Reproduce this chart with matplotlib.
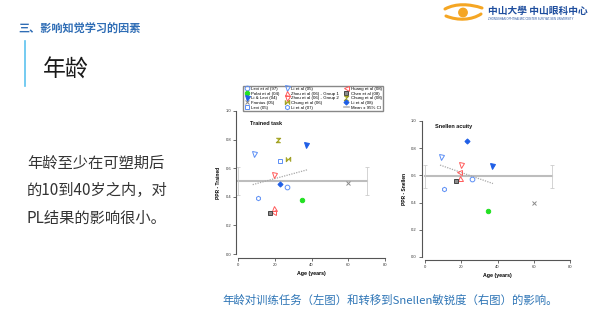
import numpy as np
import matplotlib.pyplot as plt
from matplotlib.path import Path
from matplotlib.patches import PathPatch, Circle
from matplotlib.lines import Line2D

plt.rcParams['font.family'] = ['Liberation Sans', 'Noto Sans CJK SC', 'DejaVu Sans']

# --- data ---
studies = ['Levi et al (97)', 'Polat et al (04)', 'Li & Levi (04)', 'Fronius (05)', 'Levi (05)',
           'Li et al (05)', 'Zhou et al (06) - Group 1', 'Zhou et al (06) - Group 2',
           'Chung et al (06)', 'Li et al (07)',
           'Huang et al (08)', 'Chen et al (08)', 'Chung et al (08)', 'Li et al (08)']

trained_age = [26.5, 35, 37, 60, 23, 8.7, 19.5, 19.7, 27, 10.7, 19, 17.6, 22, 23]
trained_ppr = [0.47, 0.375, 0.76, 0.495, 0.65, 0.70, 0.325, 0.555, 0.665, 0.395, 0.295, 0.285, 0.80, 0.49]

snellen_age = [26, 35, 36.8, 60, None, 8.6, 19.2, 19.6, None, 10.4, 18.5, 17.2, None, 23]
snellen_ppr = [0.57, 0.34, 0.667, 0.40, None, 0.737, 0.58, 0.68, None, 0.50, 0.627, 0.56, None, 0.85]

trained_mean, trained_ci = 0.51, (0.41, 0.61)
snellen_mean, snellen_ci = 0.595, (0.51, 0.68)
trained_fit_x, trained_fit_y = [8, 38], [0.485, 0.59]
snellen_fit_x, snellen_fit_y = [8.3, 37.5], [0.676, 0.54]
ci_x = [0, 70]

x_ticks = [0, 20, 40, 60, 80]
y_ticks = [0.0, 0.2, 0.4, 0.6, 0.8, 1.0]

# --- marker styles (marker, edge, face, size) ---
BLUE_O = '#5b8ef5'
BLUE_F = '#1e5ee6'
GREEN = '#22e022'
RED = '#ff5a5a'
YEL = '#c2c22a'
GRAY = '#8a8a8a'

bowtie_h = [(-1, 1), (-1, -1), (1, 1), (1, -1)]
bowtie_v = [(-1, 1), (1, 1), (-1, -1), (1, -1)]

styles = [
    ('o', BLUE_O, 'none', 3.4),
    ('o', GREEN, GREEN, 3.2),
    ('v', BLUE_F, BLUE_F, 3.6),
    ('x', GRAY, 'none', 3.0),
    ('s', BLUE_O, 'none', 3.4),
    ('v', BLUE_O, 'none', 3.6),
    ('^', RED, 'none', 3.6),
    ('v', RED, 'none', 3.6),
    (bowtie_h, '#9a9a20', YEL, 3.2),
    ('h', BLUE_O, 'none', 3.2),
    ('<', RED, 'none', 3.6),
    ('s', '#444444', '#8c8c8c', 3.4),
    (bowtie_v, '#9a9a20', YEL, 3.2),
    ('D', BLUE_F, BLUE_F, 2.6),
]

fig = plt.figure(figsize=(6, 3.21), dpi=100)

# --- slide decoration layer in pixel coordinates ---
bg = fig.add_axes([0, 0, 1, 1])
bg.set_xlim(0, 600)
bg.set_ylim(321, 0)
bg.axis('off')

cjk = ['Noto Sans CJK SC', 'DejaVu Sans']
bg.text(18, 29, '三、影响知觉学习的因素', family=cjk, fontsize=8, color='#2f6db5',
        weight='bold', va='center', ha='left')
bg.plot([25, 25], [41, 86], color='#5cc2ef', lw=1.2)
bg.text(43, 70, '年龄', family=cjk, fontsize=16.5, color='#1a1a1a', va='center', ha='left')
body = ['年龄至少在可塑期后', '的10到40岁之内，对', 'PL结果的影响很小。']
for i, line in enumerate(body):
    bg.text(27, 163 + 27.5 * i, line, family=cjk, fontsize=11, color='#333333',
            va='center', ha='left')
bg.text(222, 300, '年龄对训练任务（左图）和转移到Snellen敏锐度（右图）的影响。',
        family=cjk, fontsize=8.2, color='#2e75b6', va='center', ha='left')

# logo
bg.text(488, 11, '中山大學 中山眼科中心', family=cjk, fontsize=7, color='#1f4e9e',
        weight='bold', va='center', ha='left')
bg.text(488, 19.5, 'ZHONGSHAN OPHTHALMIC CENTER SUN YAT-SEN UNIVERSITY', fontsize=2,
        color='#1f4e9e', va='center', ha='left')
upper = Path([(445, 9), (456, 3), (470, 4), (482, 8)],
             [Path.MOVETO, Path.CURVE4, Path.CURVE4, Path.CURVE4])
lower = Path([(446, 16), (458, 21), (472, 20), (481, 14)],
             [Path.MOVETO, Path.CURVE4, Path.CURVE4, Path.CURVE4])
bg.add_patch(PathPatch(upper, fill=False, ec='#f5a623', lw=2.2, capstyle='round'))
bg.add_patch(PathPatch(lower, fill=False, ec='#f5a623', lw=2.2, capstyle='round'))
bg.add_patch(Circle((463, 12.5), 4.2, color='#f5a623'))


def draw_panel(ax, ages, pprs, mean, ci, fit_x, fit_y, title, ylabel, title_pos,
               left_out, bottom_out):
    handles = []
    for age, ppr, (mk, ec, fc, ms), name in zip(ages, pprs, styles, studies):
        h = Line2D([], [], marker=mk, ls='none', mec=ec, mfc=fc, ms=ms, mew=0.7,
                   color=ec, label=name)
        handles.append(h)
        if age is None:
            continue
        ax.plot(age, ppr, marker=mk, ls='none', mec=ec, mfc=fc, ms=ms, mew=0.7,
                clip_on=False, zorder=4)
    ax.plot(ci_x, [mean, mean], color='#bdbdbd', lw=1.5, zorder=2, clip_on=False)
    ax.errorbar(ci_x, [mean, mean], yerr=[[mean - ci[0]] * 2, [ci[1] - mean] * 2],
                fmt='none', ecolor='#cccccc', elinewidth=0.6, capsize=1.3,
                capthick=0.6, zorder=2, clip_on=False)
    ax.plot(fit_x, fit_y, ls=(0, (1, 1)), color='#a8a8a8', lw=0.9, zorder=3)
    ax.text(title_pos[0], title_pos[1], title, fontsize=4, weight='bold', color='#111111')

    ax.set_xlim(0, 80)
    ax.set_ylim(0, 1)
    ax.set_xticks(x_ticks)
    ax.set_xticklabels([str(t) for t in x_ticks])
    ax.set_yticks(y_ticks)
    ax.set_yticklabels([f'{t:.1f}' for t in y_ticks])
    for s in ['top', 'right']:
        ax.spines[s].set_visible(False)
    ax.spines['left'].set_position(('outward', left_out))
    ax.spines['bottom'].set_position(('outward', bottom_out))
    for s in ['left', 'bottom']:
        ax.spines[s].set_color('#555555')
        ax.spines[s].set_linewidth(0.8)
    ax.tick_params(labelsize=3, length=2, width=0.5, pad=1.5, colors='#333333')
    ax.set_xlabel('Age (years)', fontsize=3.8, weight='bold', labelpad=3)
    ax.set_ylabel(ylabel, fontsize=3.5, weight='bold', labelpad=3)
    ax.patch.set_alpha(0)
    return handles


ax1 = fig.add_axes([238 / 600, 1 - 254 / 321, 147 / 600, 143 / 321])
handles = draw_panel(ax1, trained_age, trained_ppr, trained_mean, trained_ci,
                     trained_fit_x, trained_fit_y, 'Trained task', 'PPR - Trained',
                     (6.5, 0.905), 1.5, 3)

ax2 = fig.add_axes([425 / 600, 1 - 257 / 321, 145 / 600, 136 / 321])
draw_panel(ax2, snellen_age, snellen_ppr, snellen_mean, snellen_ci,
           snellen_fit_x, snellen_fit_y, 'Snellen acuity', 'PPR - Snellen',
           (5.5, 0.95), 2.5, 2)

mean_handle = Line2D([], [], color='#b8b8b8', lw=1.2, label='Mean ± 95% CI')
handles.append(mean_handle)
fig.legend(handles=handles, ncol=3, loc='upper left',
           bbox_to_anchor=(243 / 600, 1 - 85.5 / 321), fontsize=3.2, frameon=True,
           fancybox=False, edgecolor='#888888', framealpha=1, borderpad=0.3,
           labelspacing=0.12, handlelength=1.2, handletextpad=0.4, columnspacing=1.0,
           borderaxespad=0)

fig.savefig('out.png', dpi=100)
